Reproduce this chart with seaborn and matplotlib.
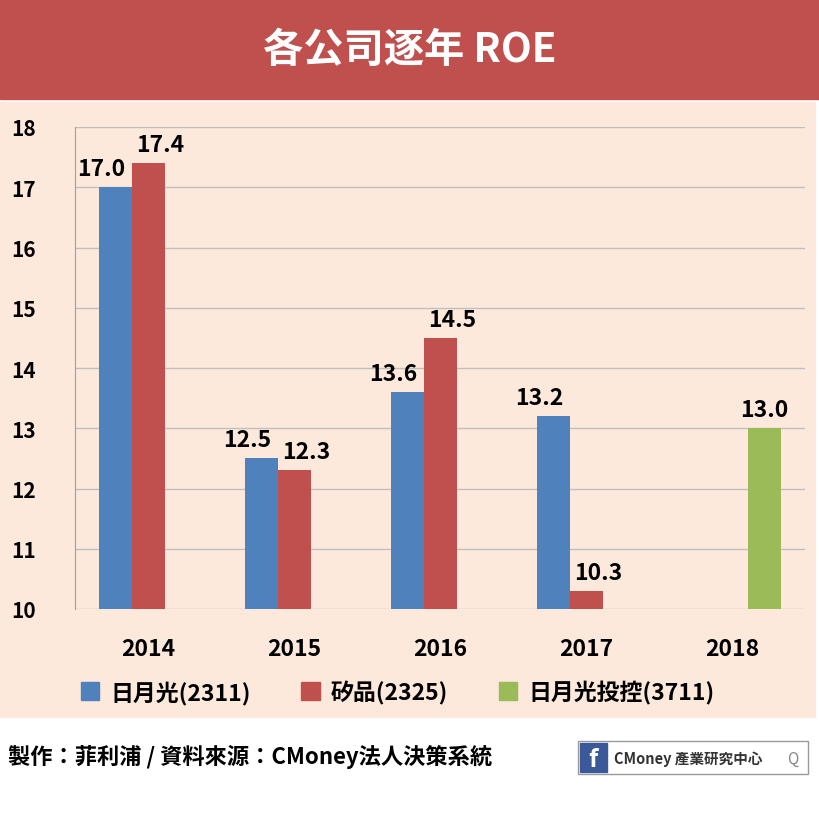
import pandas as pd
import seaborn as sns
import matplotlib.pyplot as plt
from matplotlib.patches import Rectangle, Patch

plt.rcParams['font.family'] = ['Noto Sans CJK TC', 'Noto Sans CJK JP', 'DejaVu Sans']

years = ["2014", "2015", "2016", "2017", "2018"]
ase = [17.0, 12.5, 13.6, 13.2, None]          # 日月光(2311)
spil = [17.4, 12.3, 14.5, 10.3, None]         # 矽品(2325)
ase_hold = [None, None, None, None, 13.0]     # 日月光投控(3711)
names = ["日月光(2311)", "矽品(2325)", "日月光投控(3711)"]
colors = ["#4F81BD", "#C0504D", "#9BBB59"]

peach = "#FCE9DC"
rows = []
for i, y in enumerate(years):
    rows.append((y, "L", ase[i], 0))
    if spil[i] is not None:
        rows.append((y, "R", spil[i], 1))
    else:
        rows.append((y, "R", ase_hold[i], 2))
df = pd.DataFrame(rows, columns=["year", "slot", "roe", "series"]).dropna()

fig = plt.figure(figsize=(8.2, 8.2), dpi=100)
fig.patches.append(Rectangle((0, 0), 1, 1, transform=fig.transFigure, color="white", zorder=-3))
fig.patches.append(Rectangle((0, 1 - 100/820), 1, 100/820, transform=fig.transFigure, color="#C0504D", zorder=-2))
fig.patches.append(Rectangle((0, 1 - 718/820), 815/820, 615/820, transform=fig.transFigure, color=peach, zorder=-2))
fig.text(0.5, 1 - 50/820, "各公司逐年 ROE", color="white", fontsize=29, fontweight="bold", ha="center", va="center")

ax = fig.add_axes([75/820, 1 - 610/820, 730/820, 482/820])
ax.set_facecolor(peach)
sns.barplot(data=df, x="year", y="roe", hue="slot", order=years, hue_order=["L", "R"],
            width=0.45, ax=ax, legend=False)
bars = [p for p in ax.patches if p.get_height() > 0]
for p in bars:
    xc = p.get_x() + p.get_width() / 2
    gi = int(round(xc))
    slot = "L" if xc < gi else "R"
    s = df[(df.year == years[gi]) & (df.slot == slot)].series.iloc[0]
    p.set_facecolor(colors[s])
    p.set_edgecolor("none")
    # pairs sit slightly left of the tick; the lone 2018 bar sits right of it
    p.set_x(p.get_x() + (0.11 if s == 2 else -0.11))
    v = p.get_height()
    p.set_y(10)
    p.set_height(v - 10)
    off = -0.1 if slot == "L" else 0.08
    ax.text(p.get_x() + p.get_width() / 2 + (0 if s == 2 else off), v + 0.12,
            f"{v:.1f}", ha="center", va="bottom", fontsize=16.5, fontweight="bold")
ax.set_ylim(10, 18)
ax.set_xlim(-0.5, 4.5)
ax.set_yticks(range(10, 19))
ax.yaxis.grid(True, color="#BFBFBF", lw=1)
ax.set_axisbelow(True)
for s in ["top", "right", "bottom"]:
    ax.spines[s].set_visible(False)
ax.spines["left"].set_color("#A0A0A0")
ax.tick_params(axis="y", length=0, labelsize=15, pad=46)
ax.tick_params(axis="x", length=0, labelsize=16.5, pad=20)
for t in ax.get_yticklabels():
    t.set_fontweight("bold"); t.set_ha("left")
for t in ax.get_xticklabels():
    t.set_fontweight("bold")
ax.set_xlabel(""); ax.set_ylabel("")

handles = [Patch(color=c, label=n) for c, n in zip(colors, names)]
fig.legend(handles=handles, loc="center", bbox_to_anchor=(0.485, 1 - 693/820), ncol=3, frameon=False,
           prop={"weight": "bold", "size": 16.5}, handlelength=0.8, handleheight=0.8, columnspacing=2.2,
           handletextpad=0.5)

fig.text(8/820, 1 - 757/820, "製作：菲利浦 / 資料來源：CMoney法人決策系統", fontsize=16, fontweight="bold", va="center")
fig.patches.append(Rectangle((578/820, 1 - 775/820), 230/820, 33/820, transform=fig.transFigure,
                             facecolor="white", edgecolor="#999999", lw=1))
fig.patches.append(Rectangle((580/820, 1 - 773/820), 27/820, 29/820, transform=fig.transFigure, color="#3B5998"))
fig.text(593/820, 1 - 760/820, "f", color="white", fontsize=18, fontweight="bold", ha="center", va="center")
fig.text(614/820, 1 - 759/820, "CMoney 產業研究中心", fontsize=10.5, fontweight="bold", va="center", color="#333333")
fig.text(793/820, 1 - 759/820, "Q", fontsize=11, ha="center", va="center", color="#888888")

fig.savefig("out.png", dpi=100)
